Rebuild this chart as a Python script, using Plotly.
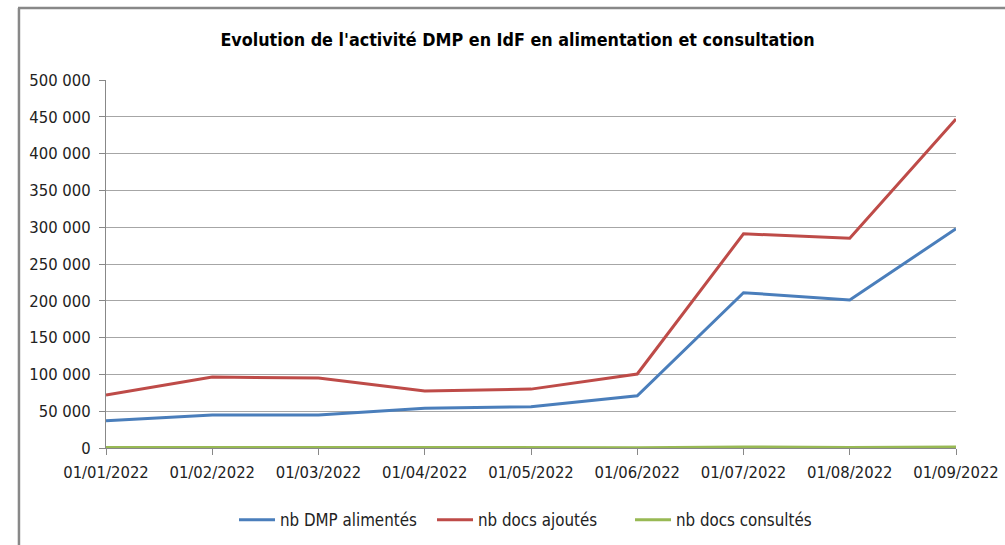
import plotly.graph_objects as go

dates = ["01/01/2022", "01/02/2022", "01/03/2022", "01/04/2022", "01/05/2022",
         "01/06/2022", "01/07/2022", "01/08/2022", "01/09/2022"]
dmp_alimentes = [37000, 45000, 45000, 54000, 56000, 71000, 211000, 201000, 298000]
docs_ajoutes = [72000, 96500, 95000, 77500, 80000, 100500, 291000, 285000, 447000]
docs_consultes = [800, 700, 1500, 1500, 500, 500, 1500, 800, 1200]

y_ticks = list(range(0, 500001, 50000))
y_labels = ["0" if v == 0 else f"{v // 1000} 000" for v in y_ticks]

FONT = "'DejaVu Sans Condensed', 'Liberation Sans Narrow', sans-serif"

fig = go.Figure()
series = [
    ("nb DMP alimentés", dmp_alimentes, "#4A7EBB"),
    ("nb docs ajoutés", docs_ajoutes, "#BE4B48"),
    ("nb docs consultés", docs_consultes, "#98B954"),
]
for name, vals, col in series:
    fig.add_trace(go.Scatter(x=dates, y=vals, mode="lines", name=name,
                             line=dict(color=col, width=3)))

fig.update_layout(
    width=1005, height=545,
    margin=dict(l=106, r=49, t=80, b=97, autoexpand=False),
    paper_bgcolor="white", plot_bgcolor="white",
    font=dict(family=FONT, size=16, color="#222"),
    title=dict(text="<b>Evolution de l'activité DMP en IdF en alimentation et consultation</b>",
               x=0.515, xanchor="center", y=0.927, yanchor="middle",
               font=dict(family=FONT, size=17.8, color="#000")),
    showlegend=True,
    legend=dict(orientation="h", x=0.1506, xanchor="left",
                yref="container", y=0.046, yanchor="middle",
                font=dict(family=FONT, size=16.8, color="#222"), itemwidth=36,
                entrywidth=147, traceorder="normal"),
    shapes=[
        dict(type="line", xref="paper", yref="paper", x0=-0.1035, x1=1.1, y0=1.1957, y1=1.1957,
             line=dict(color="#888", width=2.5)),
        dict(type="line", xref="paper", yref="paper", x0=-0.1024, x1=-0.1024, y0=1.1957, y1=-0.3,
             line=dict(color="#888", width=2.5)),
    ],
)
fig.update_xaxes(type="category", range=[0, 8], showgrid=False, automargin=False,
                 showline=True, linecolor="#888", linewidth=1,
                 ticks="outside", ticklen=6, tickcolor="#888", ticklabelstandoff=3,
                 tickfont=dict(family=FONT, size=16.5, color="#222"))
fig.update_yaxes(range=[0, 500000], tickvals=y_ticks, ticktext=y_labels, automargin=False,
                 showgrid=True, gridcolor="#A6A6A6", gridwidth=1,
                 showline=True, linecolor="#888", linewidth=1,
                 ticks="outside", ticklen=6, tickcolor="#888", zeroline=False,
                 ticklabelstandoff=5,
                 tickfont=dict(family=FONT, size=16.5, color="#222"))

fig.write_html("out.html", config={"displayModeBar": False},
               post_script="document.body.style.margin='0';")
